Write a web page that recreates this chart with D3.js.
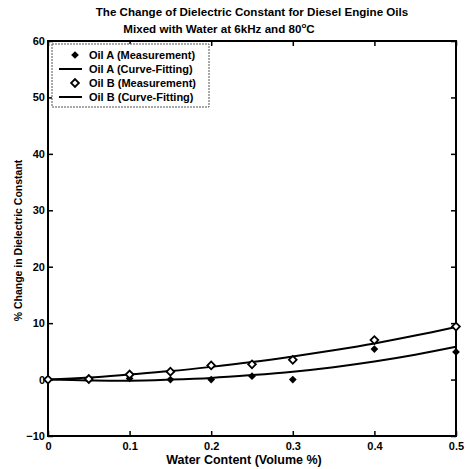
<!DOCTYPE html>
<html>
<head>
<meta charset="utf-8">
<style>
body { margin: 0; background: #fff; }
text { font-family: "Liberation Sans", Arial, sans-serif; font-weight: bold; fill: #000; }
</style>
<script src="https://d3js.org/d3.v7.min.js"></script>
</head>
<body>
<svg width="470" height="469"></svg>
<script>
// water content (volume %)
var waterContent = [0, 0.05, 0.1, 0.15, 0.2, 0.25, 0.3, 0.4, 0.5];
var oilAMeas = [0, 0, 0.2, 0, 0, 0.6, 0, 5.4, 4.9];
var oilBMeas = [0, 0.1, 0.9, 1.4, 2.5, 2.7, 3.5, 7.0, 9.4];

// fitted curves, read every 0.05
var fitX = [0, 0.05, 0.1, 0.15, 0.2, 0.25, 0.3, 0.35, 0.4, 0.45, 0.5];
var oilAFit = [0, -0.15, -0.2, 0, 0.3, 0.8, 1.4, 2.2, 3.2, 4.4, 5.8];
var oilBFit = [0, 0.35, 0.9, 1.5, 2.25, 3.1, 4.1, 5.2, 6.4, 7.8, 9.3];

var xTicks = [0, 0.1, 0.2, 0.3, 0.4, 0.5];
var yTicks = [-10, 0, 10, 20, 30, 40, 50, 60];
var legendLabels = ["Oil A (Measurement)", "Oil A (Curve-Fitting)", "Oil B (Measurement)", "Oil B (Curve-Fitting)"];

var svg = d3.select("svg");
var pLeft = 48, pRight = 456, pTop = 41, pBottom = 436;

var x = d3.scaleLinear().domain([0, 0.5]).range([pLeft, pRight]);
var y = d3.scaleLinear().domain([-10, 60]).range([pBottom, pTop]);

// axes with inward ticks on all sides
var fmtX = function(d) { return d === 0 ? "0" : d3.format(".1f")(d); };
svg.append("g").attr("transform", "translate(0," + pBottom + ")")
  .call(d3.axisBottom(x).tickValues(xTicks).tickSizeInner(-5).tickSizeOuter(0).tickPadding(6).tickFormat(fmtX));
svg.append("g").attr("transform", "translate(0," + pTop + ")")
  .call(d3.axisTop(x).tickValues(xTicks).tickSizeInner(-5).tickSizeOuter(0).tickFormat(""));
svg.append("g").attr("transform", "translate(" + pLeft + ",0)")
  .call(d3.axisLeft(y).tickValues(yTicks).tickSizeInner(-5).tickSizeOuter(0).tickPadding(3).tickFormat(d3.format("d")));
svg.append("g").attr("transform", "translate(" + pRight + ",0)")
  .call(d3.axisRight(y).tickValues(yTicks).tickSizeInner(-5).tickSizeOuter(0).tickFormat(""));

svg.selectAll(".domain").remove();
svg.selectAll(".tick line").attr("stroke", "#000").attr("stroke-width", 1.5);
svg.selectAll(".tick text").style("font-size", "11px").style("font-weight", "bold")
  .style("font-family", "'Liberation Sans', Arial, sans-serif");

svg.append("rect").attr("x", pLeft).attr("y", pTop)
  .attr("width", pRight - pLeft).attr("height", pBottom - pTop)
  .attr("fill", "none").attr("stroke", "#000").attr("stroke-width", 2);

// fitted lines
var line = d3.line()
  .x(function(d) { return x(d[0]); })
  .y(function(d) { return y(d[1]); })
  .curve(d3.curveCatmullRom);

[oilAFit, oilBFit].forEach(function(s) {
  svg.append("path")
    .datum(fitX.map(function(v, i) { return [v, s[i]]; }))
    .attr("d", line)
    .attr("fill", "none").attr("stroke", "#000").attr("stroke-width", 2);
});

// markers (square turned 45deg)
var diamond = d3.symbol().type(d3.symbolSquare).size(30);
svg.selectAll(".ptA").data(waterContent).enter().append("path")
  .attr("transform", function(d, i) { return "translate(" + x(d) + "," + y(oilAMeas[i]) + ") rotate(45)"; })
  .attr("d", diamond).attr("fill", "#000");
svg.selectAll(".ptB").data(waterContent).enter().append("path")
  .attr("transform", function(d, i) { return "translate(" + x(d) + "," + y(oilBMeas[i]) + ") rotate(45)"; })
  .attr("d", diamond).attr("fill", "#fff").attr("stroke", "#000").attr("stroke-width", 1.8);

// legend
var lg = svg.append("g");
lg.append("rect").attr("x", 52).attr("y", 44).attr("width", 157).attr("height", 63)
  .attr("fill", "#fff").attr("stroke", "#555").attr("stroke-width", 1).attr("stroke-dasharray", "2,1");
legendLabels.forEach(function(lab, i) {
  var ly = 55 + i * 14;
  if (i % 2 === 0) {
    var m = lg.append("path").attr("transform", "translate(75," + ly + ") rotate(45)").attr("d", diamond);
    if (i === 0) m.attr("fill", "#000");
    else m.attr("fill", "#fff").attr("stroke", "#000").attr("stroke-width", 1.8);
  } else {
    lg.append("line").attr("x1", 59).attr("x2", 82).attr("y1", ly).attr("y2", ly)
      .attr("stroke", "#000").attr("stroke-width", 2);
  }
  lg.append("text").attr("x", 89).attr("y", ly + 4).style("font-size", "11px").text(lab);
});

// titles
svg.append("text").attr("x", 252).attr("y", 16).attr("text-anchor", "middle")
  .style("font-size", "11.6px").text("The Change of Dielectric Constant for Diesel Engine Oils");
var t2 = svg.append("text").attr("x", 219).attr("y", 33).attr("text-anchor", "middle").style("font-size", "11.6px");
t2.append("tspan").text("Mixed with Water at 6kHz and 80");
t2.append("tspan").attr("dy", -5).style("font-size", "8px").text("o");
t2.append("tspan").attr("dy", 5).text("C");

svg.append("text").attr("x", 244).attr("y", 464).attr("text-anchor", "middle")
  .style("font-size", "12.5px").text("Water Content (Volume %)");
svg.append("text").attr("transform", "translate(22," + ((pTop + pBottom) / 2 + 2) + ") rotate(-90)")
  .attr("text-anchor", "middle").style("font-size", "10.5px").text("% Change in Dielectric Constant");
</script>
</body>
</html>
